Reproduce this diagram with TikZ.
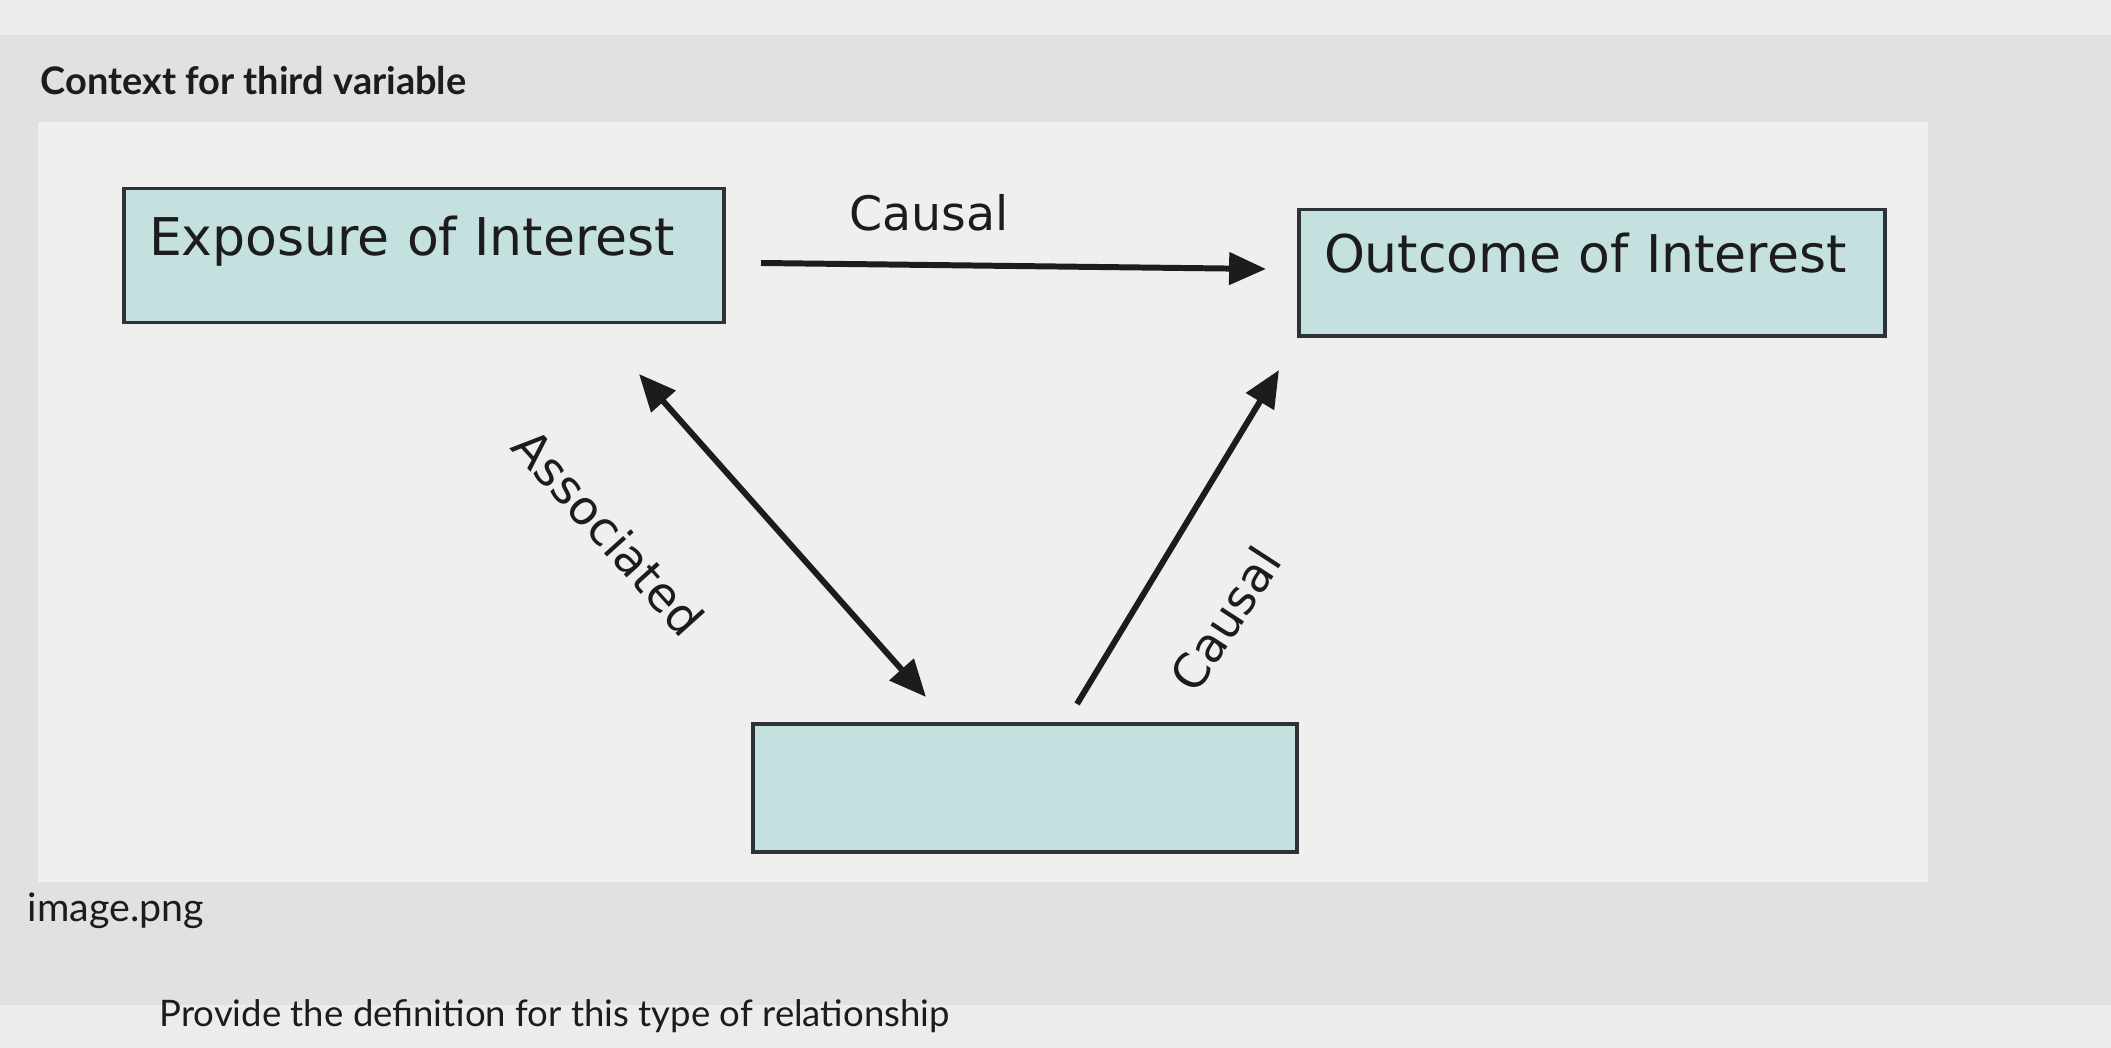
\documentclass[tikz,border=0pt]{standalone}
\usepackage{fontspec}
\setmainfont{Lato}
\newfontfamily\diagfont{DejaVu Sans}
\usepackage{tikz}
\usetikzlibrary{arrows.meta, positioning}
\definecolor{PageGrey}  {RGB}{224,226,224}
\definecolor{BandGrey}  {RGB}{235,236,235}
\definecolor{PanelWhite}{RGB}{239,240,238}
\definecolor{BoxTeal}   {RGB}{196,225,224}
\definecolor{EdgeDark}  {RGB}{45, 50, 55}
\definecolor{InkBlack}  {RGB}{28, 28, 30}

\begin{document}
\begin{tikzpicture}[
    x=0.1mm, y=-0.1mm,
    varbox/.style={draw=EdgeDark, fill=BoxTeal, line width=1pt, align=left, inner xsep=0.25cm, inner ysep=0pt, text height=19pt, text depth=19pt, font=\diagfont\fontsize{14.8}{16}\selectfont, text=InkBlack},
    arrow/.style={-{Triangle[length=10.5pt, width=9pt]}, line width=1.7pt, InkBlack},
    lbl/.style={font=\diagfont\fontsize{13.5}{15}\selectfont, text=InkBlack, inner sep=0pt},
    page/.style={text=InkBlack, inner sep=0pt, anchor=west}
]

    % Screen background
    \useasboundingbox (0,0) rectangle (2111,1048);
    \fill[PageGrey] (0,0) rectangle (2111,1048);
    \fill[BandGrey] (0,0) rectangle (2111,35);
    \fill[BandGrey] (0,1005) rectangle (2111,1048);
    \fill[PanelWhite] (38,122) rectangle (1928,882);

    % Page texts
    \node[page, font=\bfseries\fontsize{10.8}{12}\selectfont] (heading) at (40,81) {Context for third variable};
    \node[page, font=\fontsize{11.2}{13}\selectfont] (filename) at (27,911) {image.png};
    \node[page, font=\fontsize{10.4}{12}\selectfont] (question) at (159,1016) {Provide the definition for this type of relationship};

    % Variables
    \node[varbox, text width=5.5cm] (exposure) at (424,255.5) {Exposure of Interest};
    \node[varbox, text width=5.36cm, text height=18pt, text depth=18pt] (outcome) at (1592,273) {Outcome of Interest};
    \node[varbox, minimum width=5.44cm, minimum height=1.28cm, text height=0pt, text depth=0pt] (third) at (1025,788) {};

    % Arrow ends
    \coordinate (causeTopA) at (761,263);
    \coordinate (causeTopB) at (1266,269);
    \coordinate (assocA) at (639,374);
    \coordinate (assocB) at (926,697);
    \coordinate (causeDiagA) at (1077,704);
    \coordinate (causeDiagB) at (1279,370);

    % Edges
    \draw[arrow] (causeTopA) -- (causeTopB);
    \draw[arrow, {Triangle[length=10.5pt, width=9pt]}-{Triangle[length=10.5pt, width=9pt]}] (assocA) -- (assocB);
    \draw[arrow] (causeDiagA) -- (causeDiagB);

    % Edge labels
    \node[lbl] (causalTop) at (929,213) {Causal};
    \node[lbl, rotate=-48] (associated) at (609,532) {Associated};
    \node[lbl, rotate=57] (causalDiag) at (1225,619) {Causal};

\end{tikzpicture}
\end{document}
